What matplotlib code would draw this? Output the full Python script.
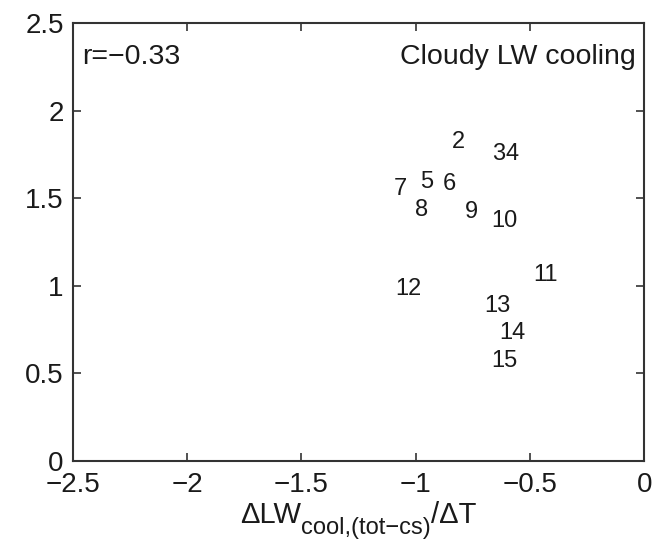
import matplotlib
matplotlib.use("Agg")
import matplotlib.pyplot as plt

plt.rcParams['font.family'] = ['Liberation Sans', 'DejaVu Sans']

# Model index labels and their positions
labels = ['2', '3', '4', '5', '6', '7', '8', '9', '10', '11', '12', '13', '14', '15']
x_vals = [-0.841, -0.666, -0.606, -0.982, -0.881, -1.096, -1.004, -0.785,
          -0.671, -0.487, -1.091, -0.701, -0.636, -0.671]
y_vals = [1.82, 1.75, 1.75, 1.59, 1.58, 1.55, 1.43, 1.42,
          1.37, 1.06, 0.98, 0.886, 0.73, 0.57]

x_ticks = [-2.5, -2, -1.5, -1, -0.5, 0]
x_ticklabels = ['\u22122.5', '\u22122', '\u22121.5', '\u22121', '\u22120.5', '0']
y_ticks = [0, 0.5, 1, 1.5, 2, 2.5]
y_ticklabels = ['0', '0.5', '1', '1.5', '2', '2.5']

corr_text = 'r=\u22120.33'
panel_title = 'Cloudy LW cooling'

TXT = '#1a1a1a'

fig = plt.figure(figsize=(6.62, 5.40), dpi=100)
ax = fig.add_axes([0.1098, 0.1469, 0.8634, 0.81])

for lab, xv, yv in zip(labels, x_vals, y_vals):
    ax.text(xv, yv, lab, ha='left', va='center', fontsize=17, color=TXT)

ax.set_xlim(-2.5, 0)
ax.set_ylim(0, 2.5)
ax.set_xticks(x_ticks)
ax.set_xticklabels(x_ticklabels)
ax.set_yticks(y_ticks)
ax.set_yticklabels(y_ticklabels)
ax.tick_params(direction='in', length=6, width=1.2, top=True, right=True,
               labelsize=20, colors='#333333', labelcolor=TXT)
ax.tick_params(axis='x', pad=8.5)
ax.tick_params(axis='y', pad=6.5)
for s in ax.spines.values():
    s.set_linewidth(1.5)
    s.set_color('#333333')

ax.text(0.0158, 0.9073, corr_text, transform=ax.transAxes, ha='left', va='baseline',
        fontsize=20.5, color=TXT)
ax.text(0.985, 0.9073, panel_title, transform=ax.transAxes, ha='right', va='baseline',
        fontsize=20.5, color=TXT)

# x-axis label assembled from pieces so the subscript keeps a large size
W, H = fig.get_size_inches() * fig.dpi
main_base = (H - 523.3) / H
sub_base = (H - 534.0) / H
pieces = [('\u0394LW', 21, main_base), ('cool,(tot\u2212cs)', 17, sub_base), ('/\u0394T', 21, main_base)]
texts = [fig.text(0, yb, s, fontsize=fs, va='baseline', ha='left', color=TXT)
         for s, fs, yb in pieces]
fig.canvas.draw()
renderer = fig.canvas.get_renderer()
widths = [t.get_window_extent(renderer).width for t in texts]
x_px = (72.7 + 644.3) / 2 - sum(widths) / 2
for t, w in zip(texts, widths):
    t.set_x(x_px / W)
    x_px += w

fig.savefig('out.png', dpi=100)
